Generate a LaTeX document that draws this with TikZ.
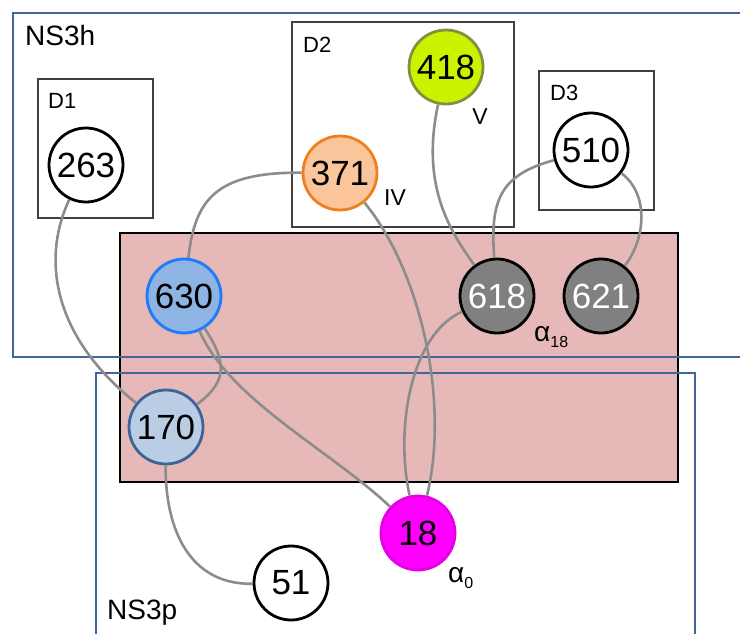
\documentclass[tikz,border=0pt]{standalone}
\usepackage{fontspec}
\setmainfont{Liberation Sans}
\usetikzlibrary{positioning}
\definecolor{nsblue}{HTML}{41679A}
\definecolor{corepink}{HTML}{E6B9B8}
\definecolor{linkgray}{HTML}{8C8C8C}
\definecolor{orfill}{HTML}{FAC59A}
\definecolor{ordraw}{HTML}{F07F1E}
\definecolor{lime}{HTML}{CCF200}
\definecolor{limedraw}{HTML}{7C9440}
\definecolor{bluefill}{HTML}{8DB4E2}
\definecolor{bluedraw}{HTML}{1E7BFF}
\definecolor{paleblue}{HTML}{B9CDE5}
\definecolor{paledraw}{HTML}{3C6496}
\definecolor{magenta18}{HTML}{FF00FF}
\begin{document}
\begin{tikzpicture}[x=1pt,y=-1pt,
	res/.style={circle,draw=black,fill=white,line width=2.8pt,minimum size=74pt,inner sep=0pt,font=\fontsize{35}{35}\selectfont},
	dark/.style={res,fill=gray,text=white},
	link/.style={draw=linkgray,line width=2.6pt},
	dom/.style={draw=black!75,line width=1.2pt},
	region/.style={draw=nsblue,line width=2pt},
	tag/.style={font=\fontsize{22}{22}\selectfont,inner sep=0pt,anchor=base west},
	big/.style={font=\fontsize{28}{28}\selectfont,inner sep=0pt,anchor=base west},
	sub/.style={font=\fontsize{23}{23}\selectfont,inner sep=0pt},
	alpha/.style={font=\fontsize{28}{28}\selectfont,inner sep=0pt,anchor=base west}]
				\useasboundingbox (0,0) rectangle (740,633); \clip (0,0) rectangle (740,633);
				% regions and domains
				\draw [fill=corepink,line width=2.8pt] (120,233) rectangle (678,482);
				\draw [region] (13,13) rectangle (760,357); \draw [region] (96,373) rectangle (695,660);
				\draw [dom] (38,79) rectangle (153,218); \draw [dom] (292,22) rectangle (514,227); \draw [dom] (539,71) rectangle (654,210);
				\node (NSh) [big] at (25,45) {NS3h}; \node (NSp) [big] at (107,619) {NS3p};
				\node (D1) [tag] at (48,108) {D1}; \node (D2) [tag] at (303,52) {D2}; \node (D3) [tag] at (550,100) {D3};
				% residues
				\node (n263) [res] at (86,165) {263}; \node (n371) [res,fill=orfill,draw=ordraw] at (340,173) {371};
				\node (n418) [res,fill=lime,draw=limedraw] at (446,67) {418}; \node (n510) [res] at (591,150) {510};
				\node (n630) [res,fill=bluefill,draw=bluedraw] at (184,296) {630}; \node (n618) [dark] at (497,296) {618}; \node (n621) [dark] at (601,296) {621};
				\node (n170) [res,fill=paleblue,draw=paledraw] at (166,427) {170}; \node (n18) [res,fill=magenta18,draw=magenta18!90!black] at (418,533) {18};
				\node (n51) [res] at (291,583) {51};
				\node (lIV) [sub] at (395,198) {IV}; \node (lV) [sub] at (480,117) {V};
				\node (la18) [alpha] at (534,341) {α\raisebox{-6pt}{\fontsize{16}{16}\selectfont 18}}; \node (la0) [alpha] at (448,582) {α\raisebox{-6pt}{\fontsize{16}{16}\selectfont 0}};
				% contacts
				\draw [link] (n263) .. controls (45,250) and (45,330) .. (n170);
				\draw [link] (n371) .. controls (215,172) and (195,200) .. (n630);
				\draw [link] (n371) .. controls (420,270) and (450,400) .. (n18);
				\draw [link] (n418) .. controls (422,180) and (445,225) .. (n618);
				\draw [link] (n510) .. controls (500,175) and (490,200) .. (n618);
				\draw [link] (n510) .. controls (650,195) and (645,240) .. (n621);
				\draw [link] (n630) .. controls (225,360) and (230,380) .. (n170);
				\draw [link] (n630) .. controls (230,400) and (330,450) .. (n18);
				\draw [link] (n170) .. controls (165,530) and (190,585) .. (n51);
				\draw [link] (n618) .. controls (410,335) and (395,430) .. (n18);
			\end{tikzpicture}
\end{document}
